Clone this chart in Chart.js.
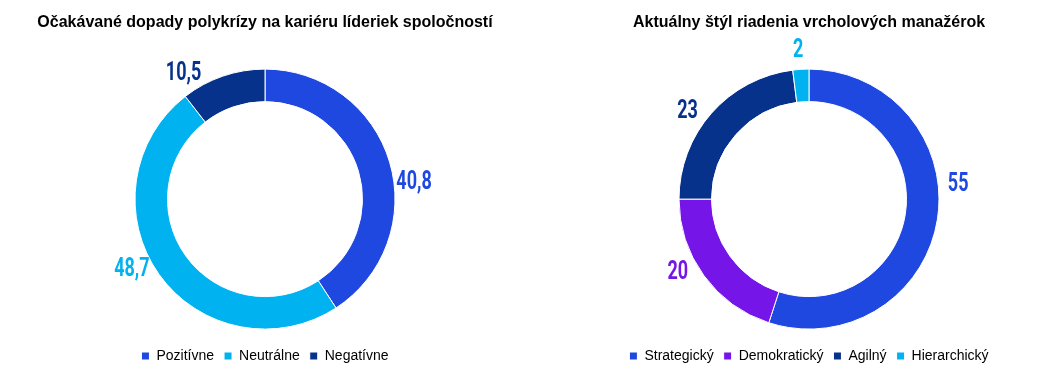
<!DOCTYPE html>
<html><head><meta charset="utf-8">
<script src="https://cdn.jsdelivr.net/npm/chart.js@4.4.1/dist/chart.umd.min.js"></script>
<style>
html,body{margin:0;padding:0;background:#fff;width:1054px;height:382px;overflow:hidden}
#w1{position:absolute;left:0;top:0;width:530px;height:382px}
#w2{position:absolute;left:564px;top:0;width:490px;height:382px}
</style></head><body>
<div id="w1"><canvas id="c1"></canvas></div>
<div id="w2"><canvas id="c2"></canvas></div>
<script>
const title1 = 'Očakávané dopady polykrízy na kariéru líderiek spoločností';
const categories1 = ['Pozitívne', 'Neutrálne', 'Negatívne'];
const values1 = [40.8, 48.7, 10.5];
const colors1 = ['#1f48e0', '#00b3f0', '#07328c'];
const labelShift1 = [10, 8, -14];

const title2 = 'Aktuálny štýl riadenia vrcholových manažérok';
const categories2 = ['Strategický', 'Demokratický', 'Agilný', 'Hierarchický'];
const values2 = [55, 20, 23, 2];
const colors2 = ['#1f48e0', '#7515e8', '#07328c', '#00b3f0'];
const labelShift2 = [-15, 7, -5.5, -0.5];

const labelPlugin = {
  id: 'outLabels',
  afterDatasetsDraw(chart, args, opts) {
    const ctx = chart.ctx;
    const meta = chart.getDatasetMeta(0);
    const ds = chart.data.datasets[0];
    meta.data.forEach((arc, i) => {
      const p = arc.getProps(['x','y','startAngle','endAngle','outerRadius'], true);
      const mid = (p.startAngle + p.endAngle) / 2 + (opts.shift[i] || 0) * Math.PI / 180;
      const r = p.outerRadius + 20;
      const x = p.x + Math.cos(mid) * r;
      const y = p.y + Math.sin(mid) * r;
      const txt = String(ds.data[i]).replace('.', ',');
      ctx.save();
      ctx.translate(x, y);
      ctx.scale(0.72, 1);
      ctx.font = 'bold 25px Roboto';
      ctx.fillStyle = ds.backgroundColor[i];
      ctx.textAlign = 'center';
      ctx.textBaseline = 'middle';
      ctx.fillText(txt, 0, 1);
      ctx.restore();
    });
  }
};

function makeChart(id, title, cats, vals, cols, shift) {
  return new Chart(document.getElementById(id), {
    type: 'doughnut',
    data: { labels: cats, datasets: [{ data: vals, backgroundColor: cols, borderColor: '#ffffff', borderWidth: 1, radius: 130, cutout: '75%' }] },
    options: {
      responsive: true, maintainAspectRatio: false, animation: false,
      layout: { padding: { top: 0, bottom: 9, left: 0, right: 0 } },
      plugins: {
        title: { display: true, text: title, color: '#000', font: { family: 'Liberation Sans, Arial, sans-serif', size: 16, weight: 'bold' }, padding: { top: 13, bottom: 27 } },
        legend: { position: 'bottom', labels: { color: '#000', boxWidth: 8, boxHeight: 8, padding: 10, font: { family: 'Liberation Sans, Arial, sans-serif', size: 14 } } },
        tooltip: { enabled: false },
        outLabels: { shift: shift }
      }
    },
    plugins: [labelPlugin]
  });
}
makeChart('c1', title1, categories1, values1, colors1, labelShift1);
makeChart('c2', title2, categories2, values2, colors2, labelShift2);
</script>
</body></html>
